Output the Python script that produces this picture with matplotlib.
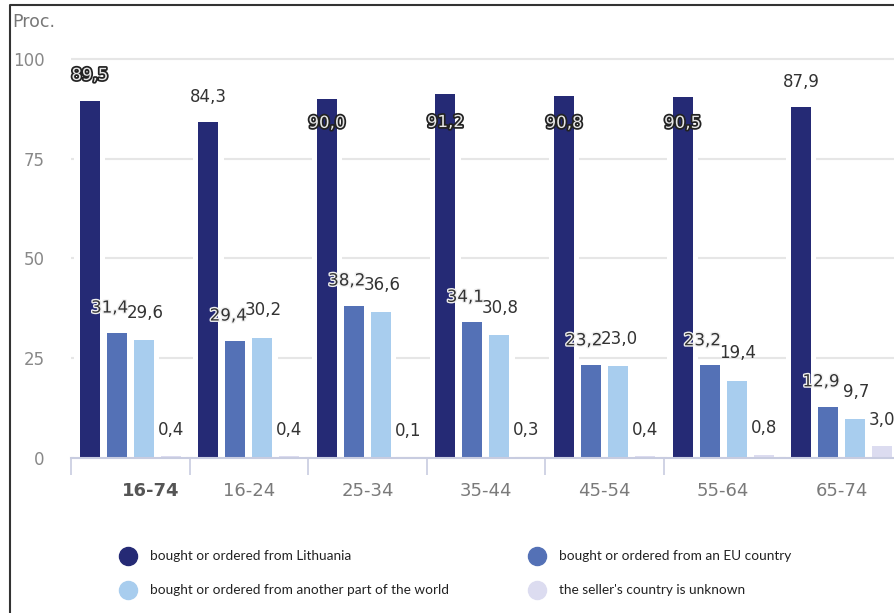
import numpy as np
import matplotlib
matplotlib.use('Agg')
import matplotlib.pyplot as plt
import matplotlib.patheffects as pe
import matplotlib.transforms as mtransforms
from matplotlib.lines import Line2D

# age groups
groups = ['16-74', '16-24', '25-34', '35-44', '45-54', '55-64', '65-74']

# share of internet shoppers, %
lithuania = [89.5, 84.3, 90.0, 91.2, 90.8, 90.5, 87.9]
eu_country = [31.4, 29.4, 38.2, 34.1, 23.2, 23.2, 12.9]
other_world = [29.6, 30.2, 36.6, 30.8, 23.0, 19.4, 9.7]
unknown = [0.4, 0.4, 0.1, 0.3, 0.4, 0.8, 3.0]

series_names = ['bought or ordered from Lithuania',
                'bought or ordered from an EU country',
                'bought or ordered from another part of the world',
                "the seller's country is unknown"]
colors = ['#252a75', '#5471b6', '#a8cdee', '#dcdcf0']

# label placement for the Lithuania series (some labels sit inside the bar)
lt_dy = [6.5, 6.3, -6.0, -7.0, -6.8, -6.5, 6.3]
lt_outlined = [True, False, True, True, True, True, False]

W, H = 895, 613
fig = plt.figure(figsize=(W / 100, H / 100), dpi=100)
ax = fig.add_axes([71 / W, 155 / H, 824 / W, 401 / H])

x = np.arange(len(groups))
step = 0.228
width = 0.169
all_series = [lithuania, eu_country, other_world, unknown]

for j, vals in enumerate(all_series):
    pos = x + (j - 1.5) * step
    # white halo so the grid stops short of the bars
    ax.bar(pos, vals, width + 0.09, color='white', zorder=2)
    ax.bar(pos, vals, width, color=colors[j], zorder=3)

def fmt(v):
    return f'{v:.1f}'.replace('.', ',')

# value labels
for i in range(len(groups)):
    pos = x[i] - 1.5 * step
    t = ax.text(pos, lithuania[i] + lt_dy[i], fmt(lithuania[i]), ha='center', va='center',
                fontsize=12, color='#333333', zorder=5)
    if lt_outlined[i]:
        t.set_color('#e6e6e6')
        t.set_path_effects([pe.withStroke(linewidth=2.5, foreground='#222222')])
    t = ax.text(x[i] - 0.5 * step - 0.06, eu_country[i] + 6.3, fmt(eu_country[i]), ha='center',
                va='center', fontsize=12, color='#333333', zorder=5)
    t.set_path_effects([pe.withStroke(linewidth=2, foreground='#f0f0f0')])
    ax.text(x[i] + 0.5 * step + 0.01, other_world[i] + 6.8, fmt(other_world[i]), ha='center',
            va='center', fontsize=12, color='#333333', zorder=5)
    ax.text(x[i] + 1.5 * step, unknown[i] + 6.6, fmt(unknown[i]), ha='center',
            va='center', fontsize=12, color='#333333', zorder=5)

ax.set_xlim(-0.5, 6.45)
ax.set_ylim(0, 100.5)
ax.set_yticks([0, 25, 50, 75, 100])
ax.yaxis.grid(True, color='#e6e6e6', linewidth=1.5, zorder=1)
ax.set_axisbelow(True)
ax.tick_params(axis='y', length=0, pad=19, labelsize=12, labelcolor='#888888')

for s in ['top', 'right', 'left']:
    ax.spines[s].set_visible(False)
ax.spines['bottom'].set_color('#c8cce0')
ax.spines['bottom'].set_linewidth(1.5)
ax.spines['bottom'].set_zorder(4)

# separators between groups as major ticks, group names as minor tick labels
ax.set_xticks(np.arange(len(groups) - 1) - 0.5)
ax.set_xticklabels([])
ax.tick_params(axis='x', which='major', length=12, width=1.2, color='#c8cce0')
ax.set_xticks(x, minor=True)
ax.set_xticklabels(groups, minor=True)
ax.tick_params(axis='x', which='minor', length=0, pad=17, labelsize=13, labelcolor='#7a7a7a')
first = ax.get_xticklabels(minor=True)[0]
first.set_color('#555555')
first.set_fontweight('bold')
shift = mtransforms.ScaledTranslation(20 / 100, 0, fig.dpi_scale_trans)
first.set_transform(first.get_transform() + shift)

fig.text(12 / W, 1 - 22 / H, 'Proc.', ha='left', va='center', fontsize=12.5, color='#777777')

# legend
leg_pos = [(128, 556), (537, 556), (128, 590), (537, 590)]
for j, (px, py) in enumerate(leg_pos):
    fig.add_artist(Line2D([px / W], [1 - py / H], marker='o', markersize=13,
                          color=colors[j], linestyle='none', transform=fig.transFigure))
    fig.text((px + 22) / W, 1 - py / H, series_names[j], ha='left', va='center',
             fontsize=9.8, family='Lato', color='#222222')

# outer frame (left and top)
fig.add_artist(Line2D([10 / W, 10 / W, 1], [0, 1 - 5 / H, 1 - 5 / H],
                      color='#333333', linewidth=1.5, transform=fig.transFigure))

fig.savefig('out.png', dpi=100)
